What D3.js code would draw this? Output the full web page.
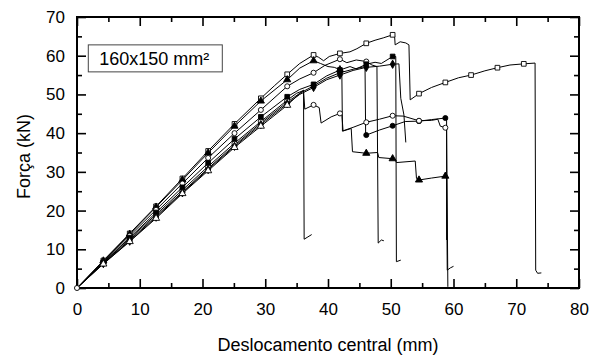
<!DOCTYPE html>
<html>
<head>
<meta charset="utf-8">
<script src="https://cdn.jsdelivr.net/npm/d3@7"></script>
<style>
  body { margin: 0; background: #fff; }
  svg { display: block; }
  text { font-family: "Liberation Sans", Arial, sans-serif; fill: #000; }
</style>
</head>
<body>
<svg id="chart" width="597" height="356"></svg>
<script>
// marker positions along the displacement axis (mm)
const markerX = [4.2, 8.4, 12.6, 16.8, 20.9, 25.1, 29.3, 33.5, 37.7, 41.9, 46.1, 50.3, 54.5, 58.7, 62.8, 67.0, 71.2];

const xTicks = [0, 10, 20, 30, 40, 50, 60, 70, 80];
const yTicks = [0, 10, 20, 30, 40, 50, 60, 70];
const xMinor = [5, 15, 25, 35, 45, 55, 65, 75];
const yMinor = [5, 15, 25, 35, 45, 55, 65];

// [displacement (mm), force (kN)]
const specimenA = [[0,0],[4.2,7.1],[8.4,14.1],[12.6,21.1],[16.8,28.3],[20.9,35.4],[25.1,42.4],[29.3,49.0],[31.5,52.3],[33.5,55.2],[35.5,58.0],[37.7,60.2],[38.5,59.6],[39.3,58.7],[40.2,59.8],[41.9,60.6],[43.5,61.0],[44.6,61.8],[46.1,63.2],[47.5,64.0],[48.8,64.6],[50.3,65.4],[50.6,65.4],[50.7,62.8],[51.5,63.6],[52.4,63.3],[52.9,62.8],[53.1,48.6],[54.5,50.2],[56.5,51.8],[58.7,53.1],[60.8,54.3],[62.8,55.0],[65.0,56.1],[67.0,56.9],[69.0,57.6],[71.2,57.9],[73.0,58.1],[73.1,4.6],[73.4,3.8],[74.0,3.9]];
const specimenB = [[0,0],[4.2,7.0],[8.4,13.9],[12.6,20.9],[16.8,27.9],[20.9,34.9],[25.1,41.8],[29.3,48.3],[33.5,53.8],[35.5,56.8],[37.7,58.7],[38.8,58.0],[40.0,57.2],[41.0,57.0],[41.9,56.4],[42.2,56.8],[42.3,40.5],[43.7,41.2],[43.9,35.2],[46.1,34.8],[47.9,35.0],[48.1,33.7],[50.3,33.4],[50.7,33.3],[50.9,32.4],[53.9,32.8],[54.1,28.3],[54.5,27.9],[56.5,28.4],[58.7,28.9],[58.9,28.9],[59.0,4.6],[59.5,5.2],[60.0,5.6]];
const specimenC = [[0,0],[4.2,6.8],[8.4,13.5],[12.6,20.2],[16.8,27.0],[20.9,33.6],[25.1,40.0],[29.3,46.0],[33.5,52.1],[35.5,54.0],[37.7,55.6],[39.5,57.5],[41.9,59.1],[43.0,58.2],[44.5,58.9],[46.1,58.5],[47.0,57.6],[47.8,57.2],[48.0,11.6],[48.5,12.4],[48.9,12.2]];
const specimenD = [[0,0],[4.2,6.4],[8.4,12.4],[12.6,18.6],[16.8,24.8],[20.9,30.9],[25.1,36.9],[29.3,42.6],[33.5,48.0],[35.5,50.3],[37.7,52.2],[39.8,54.2],[41.9,55.6],[44.0,56.5],[45.9,57.2],[46.0,39.8],[46.1,39.5],[48.2,40.8],[50.3,41.9],[52.3,43.0],[54.5,43.1],[56.5,43.5],[58.7,43.9],[58.9,43.9],[58.9,12.4]];
const specimenE = [[0,0],[4.2,6.5],[8.4,12.8],[12.6,19.0],[16.8,25.3],[20.9,31.4],[25.1,37.4],[29.3,43.0],[33.5,48.5],[35.0,50.3],[36.1,51.0],[36.3,46.2],[37.7,47.3],[38.6,46.6],[38.9,42.6],[40.5,44.2],[41.9,45.1],[42.2,45.1],[42.4,40.6],[44.0,41.5],[46.1,42.8],[48.2,43.6],[50.3,44.5],[52.0,44.4],[54.5,43.2],[56.5,43.3],[57.5,43.6],[57.9,41.8],[58.7,41.4],[58.9,41.4],[59.1,0.3]];
const specimenF = [[0,0],[4.2,6.3],[8.4,12.1],[12.6,18.3],[16.8,24.6],[20.9,30.6],[25.1,36.6],[29.3,42.2],[33.5,47.6],[35.5,50.0],[37.7,51.8],[39.8,53.8],[41.9,55.0],[44.0,56.2],[46.1,57.0],[48.2,57.3],[50.3,57.8],[51.3,57.9],[51.6,49.0],[52.1,44.7],[52.4,37.6]];
const specimenG = [[0,0],[4.2,6.6],[8.4,13.0],[12.6,19.5],[16.8,26.0],[20.9,32.3],[25.1,38.5],[29.3,44.2],[33.5,49.4],[35.5,51.3],[37.7,52.6],[39.8,54.8],[41.9,56.3],[43.5,57.2],[44.5,56.6],[46.1,57.8],[47.5,58.3],[48.5,58.0],[50.3,59.8],[50.8,59.8],[50.9,6.8],[51.6,7.2]];
const specimenH = [[0,0],[4.2,6.2],[8.4,12.0],[12.6,18.0],[16.8,24.4],[20.9,30.3],[25.1,36.3],[29.3,41.8],[33.5,47.2],[35.0,49.5],[36.1,51.1],[36.2,12.6],[36.8,13.2],[37.4,13.8]];

const series = [
  {data: specimenA, marker: "square", filled: false},
  {data: specimenB, marker: "triangle", filled: true},
  {data: specimenC, marker: "circle", filled: false},
  {data: specimenD, marker: "circle", filled: true},
  {data: specimenE, marker: "circle", filled: false},
  {data: specimenF, marker: "diamond", filled: true},
  {data: specimenG, marker: "square", filled: true},
  {data: specimenH, marker: "triangle", filled: false}
];

const margin = {top: 17, right: 18, bottom: 68, left: 77};
const width = 597 - margin.left - margin.right;
const height = 356 - margin.top - margin.bottom;

const svg = d3.select("#chart");
const g = svg.append("g").attr("transform", `translate(${margin.left},${margin.top})`);

const x = d3.scaleLinear().domain([0, 80]).range([0, width]);
const y = d3.scaleLinear().domain([0, 70]).range([height, 0]);

const fontSize = 17;
const titleSize = 18;

// axes, ticks pointing inward on all four sides
function drawAxis(axis, transform, labels) {
  const a = g.append("g").attr("transform", transform).call(axis);
  a.select(".domain").remove();
  a.selectAll("line").attr("stroke", "#000").attr("stroke-width", 1.6);
  if (labels) {
    a.selectAll("text").style("font-size", fontSize + "px").style("font-family", "Liberation Sans, Arial, sans-serif");
  } else {
    a.selectAll("text").remove();
  }
}

drawAxis(d3.axisBottom(x).tickValues(xTicks).tickSizeInner(-9).tickSizeOuter(0).tickPadding(15), `translate(0,${height})`, true);
drawAxis(d3.axisBottom(x).tickValues(xMinor).tickSizeInner(-5).tickSizeOuter(0), `translate(0,${height})`, false);
drawAxis(d3.axisTop(x).tickValues(xTicks).tickSizeInner(-9).tickSizeOuter(0), "translate(0,0)", false);
drawAxis(d3.axisTop(x).tickValues(xMinor).tickSizeInner(-5).tickSizeOuter(0), "translate(0,0)", false);
drawAxis(d3.axisLeft(y).tickValues(yTicks).tickSizeInner(-9).tickSizeOuter(0).tickPadding(12), "translate(0,0)", true);
drawAxis(d3.axisLeft(y).tickValues(yMinor).tickSizeInner(-5).tickSizeOuter(0), "translate(0,0)", false);
drawAxis(d3.axisRight(y).tickValues(yTicks).tickSizeInner(-9).tickSizeOuter(0), `translate(${width},0)`, false);
drawAxis(d3.axisRight(y).tickValues(yMinor).tickSizeInner(-5).tickSizeOuter(0), `translate(${width},0)`, false);

// frame
g.append("rect")
  .attr("x", 0).attr("y", 0)
  .attr("width", width).attr("height", height)
  .attr("fill", "none").attr("stroke", "#000").attr("stroke-width", 2);

// curves
const line = d3.line().x(d => x(d[0])).y(d => y(d[1]));

g.selectAll(".curve").data(series).enter()
  .append("path")
  .attr("class", "curve")
  .attr("d", d => line(d.data))
  .attr("fill", "none")
  .attr("stroke", "#000")
  .attr("stroke-width", 1);

const symbolType = {square: d3.symbolSquare, triangle: d3.symbolTriangle, circle: d3.symbolCircle, diamond: d3.symbolDiamond};
const symbolSize = {square: 22, triangle: 22, circle: 20, diamond: 20};

series.forEach(s => {
  const pts = s.data.filter(p => markerX.includes(p[0]));
  g.selectAll(null).data(pts).enter()
    .append("path")
    .attr("transform", p => `translate(${x(p[0])},${y(p[1])})`)
    .attr("d", d3.symbol().type(symbolType[s.marker]).size(symbolSize[s.marker]))
    .attr("fill", s.filled ? "#000" : "#fff")
    .attr("stroke", "#000")
    .attr("stroke-width", 0.9);
});

// origin marker
g.append("path")
  .attr("transform", `translate(${x(0)},${y(0)})`)
  .attr("d", d3.symbol().type(d3.symbolCircle).size(20))
  .attr("fill", "#fff").attr("stroke", "#000").attr("stroke-width", 0.9);

// label box
const box = g.append("g").attr("transform", `translate(${x(1.8)},${y(62.8)})`);
box.append("rect")
  .attr("width", 134).attr("height", 27)
  .attr("fill", "#fff").attr("stroke", "#444").attr("stroke-width", 1);
box.append("text")
  .attr("x", 11).attr("y", 20)
  .style("font-size", titleSize + "px")
  .text("160x150 mm²");

// axis titles
svg.append("text")
  .attr("x", margin.left + width / 2).attr("y", 351)
  .attr("text-anchor", "middle")
  .style("font-size", titleSize + "px")
  .text("Deslocamento central (mm)");

svg.append("text")
  .attr("transform", `translate(30,${margin.top + height / 2 + 4}) rotate(-90)`)
  .attr("text-anchor", "middle")
  .style("font-size", titleSize + "px")
  .text("Força (kN)");
</script>
</body>
</html>
